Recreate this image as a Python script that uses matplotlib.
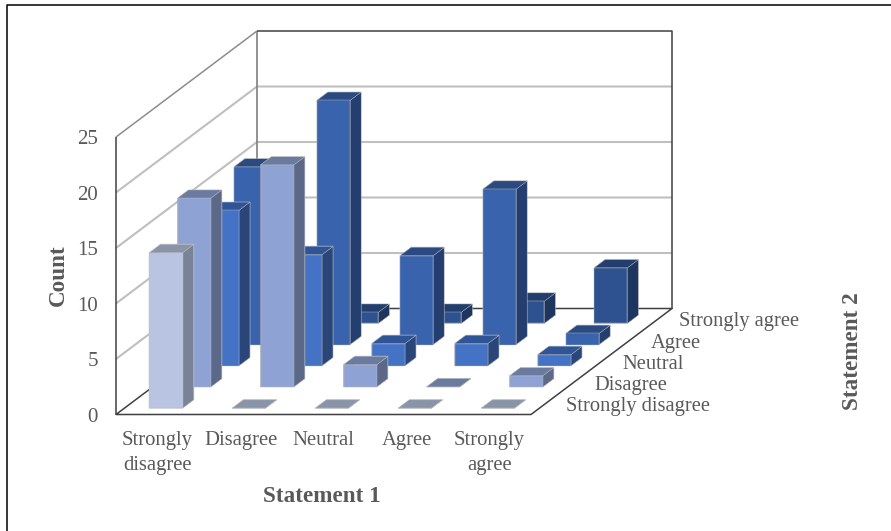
import numpy as np
import matplotlib
matplotlib.use('Agg')
import matplotlib.pyplot as plt
from matplotlib.lines import Line2D
from mpl_toolkits.mplot3d import proj3d
from mpl_toolkits.mplot3d.art3d import Line3DCollection

plt.rcParams['font.family'] = ['Liberation Serif', 'DejaVu Serif']

categories = ['Strongly\ndisagree', 'Disagree', 'Neutral', 'Agree', 'Strongly\nagree']
series_names = ['Strongly disagree', 'Disagree', 'Neutral', 'Agree', 'Strongly agree']
z_ticks = [0, 5, 10, 15, 20, 25]

# one list per Statement 2 answer, front row first
strongly_disagree = [14, 0, 0, 0, 0]
disagree = [17, 20, 2, 0, 1]
neutral = [14, 10, 2, 2, 1]
agree = [16, 22, 8, 14, 1]
strongly_agree = [0, 1, 1, 2, 5]
counts = [strongly_disagree, disagree, neutral, agree, strongly_agree]

front_colors = ['#B9C4E3', '#8FA2D4', '#4472C4', '#3A63AD', '#2E5290']
top_colors = ['#8A94A9', '#6B7A9F', '#2F5597', '#2B4A82', '#223E6C']
side_colors = ['#7A8298', '#5B6888', '#2A4678', '#243F6F', '#1E365F']

TEXT = '#595959'
WIDTH = 891
HEIGHT = 531

fig = plt.figure(figsize=(WIDTH / 100, HEIGHT / 100), dpi=100)
ax = fig.add_axes([0, 0, 1, 1], projection='3d', computed_zorder=False)
ax.set_xticks([])
ax.set_yticks([])
ax.set_zticks([])
ax.set_axis_off()

# excel style oblique view: x stays flat, z stays upright, y runs up and to the right
# output is in figure pixels
oblique = np.array([
    [83.0, 28.2, 0.0, 116.0],
    [0.0, 21.2, 11.1, HEIGHT - 414.5],
    [-0.01, 1.0, -0.01, 0.0],
    [0.0, 0.0, 0.0, 1.0],
])
ax.get_proj = lambda: oblique
ax.apply_aspect = lambda position=None: None
ax.viewLim.intervalx = (0, WIDTH)
ax.viewLim.intervaly = (0, HEIGHT)


def wall_line(xs, ys, zs, color, lw, zorder=2):
    points = np.column_stack([xs, ys, zs])
    ax.add_collection3d(Line3DCollection([points], colors=color, linewidths=lw, zorder=zorder))


def axis_label(x, y, z, label, **kwargs):
    # plain 2d text placed through the view, Text3D reports a wrong extent outside draw
    px, py, _ = proj3d.proj_transform(x, y, z, oblique)
    ax.text2D(px, py, label, transform=ax.transData, color=TEXT, **kwargs)


# walls and gridlines
for v in z_ticks[1:-1]:
    wall_line([0, 0, 5], [0, 5, 5], [v, v, v], '#BFBFBF', 1.5, zorder=1)
wall_line([0, 0], [5, 5], [0, 25], '#7F7F7F', 1.2)
wall_line([0, 0], [0, 5], [25, 25], '#8C8C8C', 1.1)
wall_line([0, 5, 5], [5, 5, 5], [25, 25, 0], '#404040', 1.1)
wall_line([0, 0], [0, 0], [0, 25], '#404040', 1.1)
wall_line([0, 5, 5, 0, 0], [0, 0, 5, 5, 0], [0, 0, 0, 0, 0], '#404040', 1.1)

# bars, back row first so the front ones cover them
for row in range(4, -1, -1):
    for col, value in enumerate(counts[row]):
        face = [top_colors[row], top_colors[row], front_colors[row],
                front_colors[row], side_colors[row], side_colors[row]]
        ax.bar3d(col + 0.3, row + 0.3, 0, 0.4, 0.39, value, color=face, shade=False,
                 edgecolor='#BDBDBD', linewidth=0.3, zorder=10 + (4 - row))

for v in z_ticks:
    axis_label(-0.22, 0, v - 0.25, str(v), ha='right', va='center', fontsize=15)
for i, label in enumerate(categories):
    axis_label(i + 0.5, 0, -1.5, label, ha='center', va='top', fontsize=14.9, linespacing=1.4)
for i, label in enumerate(series_names):
    axis_label(5.25, i + 0.5, -0.25, label, ha='left', va='center', fontsize=14.8)

fig.text(58 / WIDTH, 1 - 275 / HEIGHT, 'Count', rotation=90, ha='center', va='center',
         fontsize=16.7, fontweight='bold', color=TEXT)
fig.text(322 / WIDTH, 1 - 496 / HEIGHT, 'Statement 1', ha='center', va='center',
         fontsize=16.7, fontweight='bold', color=TEXT)
fig.text(852 / WIDTH, 1 - 351 / HEIGHT, 'Statement 2', rotation=90, ha='center', va='center',
         fontsize=16.7, fontweight='bold', color=TEXT)

# frame only shows on the left and top of the crop
fig.add_artist(Line2D([7 / WIDTH, 7 / WIDTH, 1], [0, 1 - 4.5 / HEIGHT, 1 - 4.5 / HEIGHT],
                      color='black', lw=1.1))

fig.savefig('out.png', dpi=100)
